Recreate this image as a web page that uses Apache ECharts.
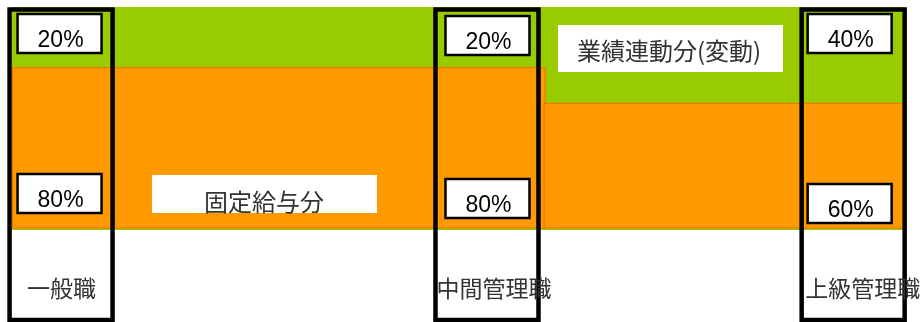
<!DOCTYPE html>
<html><head><meta charset="utf-8">
<script src="https://cdn.jsdelivr.net/npm/echarts@6/dist/echarts.min.js"></script>
<style>html,body{margin:0;padding:0;background:#fff}#c{width:922px;height:322px}</style>
</head><body><div id="c"></div>
<script>
// ---- data ----
const categories = ['一般職', '中間管理職', '上級管理職'];
const fixedPct = [80, 80, 60];          // 固定給与分 share (label)
const variablePct = [20, 20, 40];       // 業績連動分 share (label)
const fixedBandHeight = [73, 57];       // drawn height of the fixed-pay band per segment
const totalHeight = [100];              // total pay band
const bandNames = ['固定給与分', '業績連動分(変動)'];

// ---- layout (positions only) ----
const layout = {
  segEdges: [0, 59.6, 100],          // x-axis units
  catX: [5.5, 53.25, 94.3],          // x-axis units
  boxDx: [-1.5, 0.5, -3.5],
  topBoxY: [13, 15, 13],
  botBoxY: [173, 178, 183],
  nameDx: [0.5, 7, 9.5]
};

const GREEN = '#99cc00', ORANGE = '#ff9900', ORANGE_EDGE = '#ff6a00';

function pctBox(cx, top, text) {
  return [
    { type: 'rect', shape: { x: cx - 42, y: top + 1, width: 84, height: 39 },
      style: { fill: '#fff', stroke: '#000', lineWidth: 2.5 } },
    { type: 'text', style: { x: cx + 1, y: top + 28, text: text, fill: '#000',
      font: '23px "Liberation Sans", Arial, sans-serif', align: 'center', verticalAlign: 'middle' } }
  ];
}

const chart = echarts.init(document.getElementById('c'), null, { renderer: 'canvas' });
chart.setOption({
  animation: false,
  grid: { left: 12, right: 18, top: 7, bottom: 92 },
  xAxis: { type: 'value', min: 0, max: 100, show: false },
  yAxis: { type: 'value', min: 0, max: 100, show: false },
  series: [
    { // variable pay band (total)
      type: 'custom', name: bandNames[1], z: 1,
      data: totalHeight.map(h => [layout.segEdges[0], layout.segEdges[layout.segEdges.length - 1], h]),
      renderItem(params, api) {
        const p0 = api.coord([api.value(0), api.value(2)]);
        const p1 = api.coord([api.value(1), 0]);
        return { type: 'rect', shape: { x: p0[0], y: p0[1], width: p1[0] - p0[0], height: p1[1] - p0[1] },
          style: { fill: GREEN } };
      }
    },
    { // fixed pay band
      type: 'custom', name: bandNames[0], z: 2,
      data: fixedBandHeight.map((h, i) => [layout.segEdges[i], layout.segEdges[i + 1], h]),
      renderItem(params, api) {
        const p0 = api.coord([api.value(0), api.value(2)]);
        const p1 = api.coord([api.value(1), 0]);
        return { type: 'rect', shape: { x: p0[0] + 0.5, y: p0[1] + 0.5, width: p1[0] - p0[0] + 1, height: p1[1] - p0[1] - 2.5 },
          style: { fill: ORANGE, stroke: ORANGE_EDGE, lineWidth: 1 } };
      }
    },
    { // category frames with share labels
      type: 'custom', z: 5,
      data: categories.map((c, i) => [layout.catX[i], i]),
      renderItem(params, api) {
        const i = api.value(1);
        const cx = api.coord([api.value(0), 0])[0];
        const bx = cx + layout.boxDx[i];
        const children = [
          { type: 'rect', shape: { x: cx - 51.5, y: 9.5, width: 103, height: 310.5 },
            style: { fill: 'none', stroke: '#000', lineWidth: 4.5 } },
          ...pctBox(bx, layout.topBoxY[i], variablePct[i] + '%'),
          ...pctBox(bx, layout.botBoxY[i], fixedPct[i] + '%'),
          { type: 'text', style: { x: cx + layout.nameDx[i], y: 288, text: categories[i], fill: '#333',
            font: '23px "Noto Sans CJK JP", sans-serif', align: 'center', verticalAlign: 'middle' } }
        ];
        return { type: 'group', children };
      }
    }
  ],
  graphic: [
    { type: 'rect', z: 10, shape: { x: 152, y: 175, width: 225, height: 38 }, style: { fill: '#fff' } },
    { type: 'text', z: 11, style: { x: 264, y: 202, text: bandNames[0], fill: '#333',
      font: '24px "Noto Sans CJK JP", sans-serif', align: 'center', verticalAlign: 'middle' } },
    { type: 'rect', z: 10, shape: { x: 558, y: 25, width: 225, height: 47 }, style: { fill: '#fff' } },
    { type: 'text', z: 11, style: { x: 669, y: 51, text: bandNames[1], fill: '#333',
      font: '24px "Noto Sans CJK JP", sans-serif', align: 'center', verticalAlign: 'middle' } }
  ]
});
</script></body></html>
